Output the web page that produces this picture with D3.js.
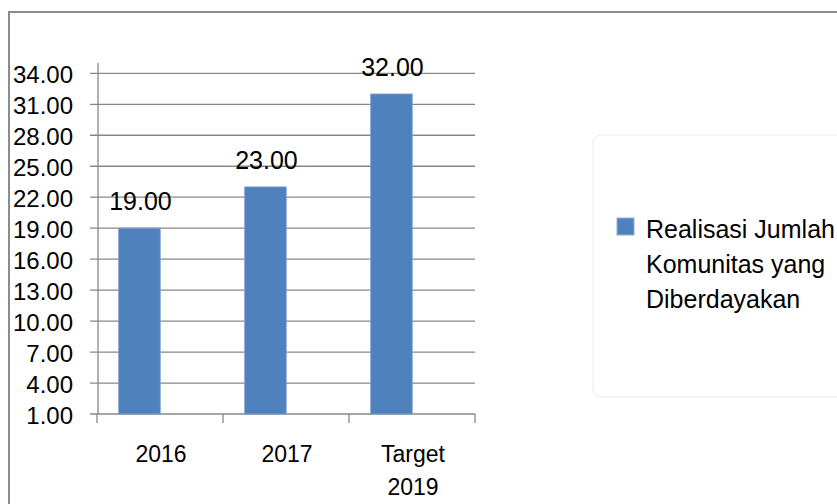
<!DOCTYPE html>
<html>
<head>
<meta charset="utf-8">
<script src="https://cdn.jsdelivr.net/npm/d3@7"></script>
<style>
    body { margin: 0; background: #fff; }
    svg { display: block; font-family: "Liberation Sans", Arial, sans-serif; }
</style>
</head>
<body>
<div id="chart"></div>
<script>
// chart data
let categories = [["2016"], ["2017"], ["Target", "2019"]];
let values = [19, 23, 32];
let yTicks = [1, 4, 7, 10, 13, 16, 19, 22, 25, 28, 31, 34];
let legendLines = ["Realisasi Jumlah", "Komunitas yang", "Diberdayakan"];

let width = 837, height = 504;

let svg = d3.select("#chart").append("svg")
    .attr("width", width)
    .attr("height", height);

// outer frame
svg.append("rect")
    .attr("x", 9)
    .attr("y", 12)
    .attr("width", 900)
    .attr("height", 600)
    .attr("fill", "none")
    .attr("stroke", "#8c8c8c")
    .attr("stroke-width", 2);

// scales
let x = d3.scaleBand()
    .domain(categories.map(d => d.join(" ")))
    .range([97, 475])
    .padding(0);

let y = d3.scaleLinear()
    .domain([1, 35])
    .range([414, 63]);

let gridColor = "#878787";

// gridlines
svg.append("g")
    .selectAll("line")
    .data(yTicks)
    .enter()
    .append("line")
    .attr("x1", 90)
    .attr("x2", 475)
    .attr("y1", d => y(d))
    .attr("y2", d => y(d))
    .attr("stroke", gridColor)
    .attr("stroke-width", 1.3);

// y axis line
svg.append("line")
    .attr("x1", 98).attr("x2", 98)
    .attr("y1", y(35)).attr("y2", y(1))
    .attr("stroke", gridColor)
    .attr("stroke-width", 1.3);

// y tick labels
svg.append("g")
    .selectAll("text")
    .data(yTicks)
    .enter()
    .append("text")
    .attr("x", 73)
    .attr("y", d => y(d) + 10)
    .attr("text-anchor", "end")
    .attr("font-size", 24)
    .attr("fill", "#000")
    .text(d => d.toFixed(2));

// x axis ticks
let xEdges = x.domain().map(d => x(d)).concat([x.range()[1]]);
svg.append("g")
    .selectAll("line")
    .data(xEdges)
    .enter()
    .append("line")
    .attr("x1", d => d).attr("x2", d => d)
    .attr("y1", y(1)).attr("y2", y(1) + 9)
    .attr("stroke", gridColor)
    .attr("stroke-width", 1.3);

// x labels
let xLabels = svg.append("g")
    .selectAll("text")
    .data(categories)
    .enter()
    .append("text")
    .attr("x", d => x(d.join(" ")) + x.bandwidth() / 2 + 1)
    .attr("y", 462)
    .attr("text-anchor", "middle")
    .attr("font-size", 23)
    .attr("fill", "#000");

xLabels.selectAll("tspan")
    .data(d => d.map(line => ({line: line, key: d.join(" ")})))
    .enter()
    .append("tspan")
    .attr("x", d => x(d.key) + x.bandwidth() / 2 + 1)
    .attr("dy", (d, i) => i === 0 ? 0 : 33)
    .text(d => d.line);

// bars
let barOffset = 0.172, barWidth = 0.33;
svg.append("g")
    .selectAll("rect")
    .data(values)
    .enter()
    .append("rect")
    .attr("x", (d, i) => x(x.domain()[i]) + x.bandwidth() * barOffset)
    .attr("y", d => y(d))
    .attr("width", x.bandwidth() * barWidth)
    .attr("height", d => y(1) - y(d))
    .attr("fill", "#4f81bd")
    .attr("stroke", "#7fa3d0")
    .attr("stroke-width", 0.8);

// value labels
svg.append("g")
    .selectAll("text")
    .data(values)
    .enter()
    .append("text")
    .attr("x", (d, i) => x(x.domain()[i]) + x.bandwidth() * (barOffset + barWidth / 2) + 1)
    .attr("y", d => y(d) - 18)
    .attr("text-anchor", "middle")
    .attr("font-size", 25)
    .attr("fill", "#000")
    .text(d => d.toFixed(2));

// legend
let legend = svg.append("g");

legend.append("rect")
    .attr("x", 593)
    .attr("y", 135)
    .attr("width", 300)
    .attr("height", 262)
    .attr("rx", 8)
    .attr("fill", "#fff")
    .attr("stroke", "#f2f2f2")
    .attr("stroke-width", 1.5);

legend.append("rect")
    .attr("x", 617)
    .attr("y", 218)
    .attr("width", 17)
    .attr("height", 17)
    .attr("fill", "#4f81bd")
    .attr("stroke", "#8eb0d8")
    .attr("stroke-width", 1);

legend.append("text")
    .attr("font-size", 25)
    .attr("fill", "#000")
    .selectAll("tspan")
    .data(legendLines)
    .enter()
    .append("tspan")
    .attr("x", 646)
    .attr("y", (d, i) => 238 + i * 35)
    .text(d => d);
</script>
</body>
</html>
